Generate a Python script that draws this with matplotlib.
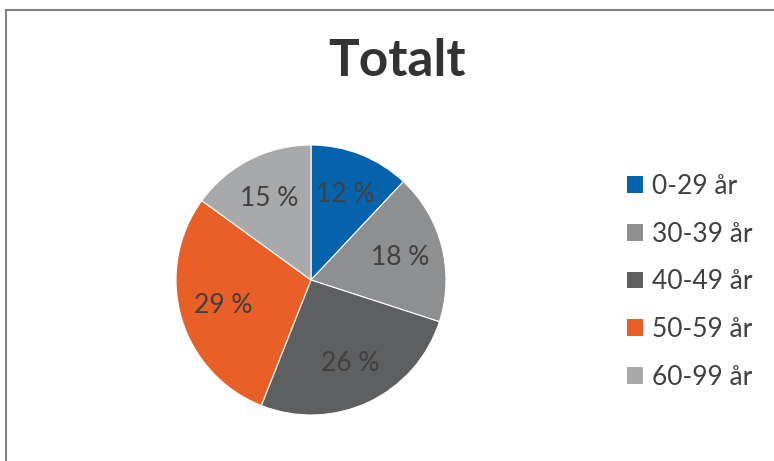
import matplotlib.pyplot as plt
from matplotlib.patches import Rectangle

# age groups and their share of the total (%)
groups = ["0-29 år", "30-39 år", "40-49 år", "50-59 år", "60-99 år"]
shares = [12, 18, 26, 29, 15]
colors = ["#0563AC", "#8E8F91", "#5E5F61", "#E85F27", "#A8A9AB"]

plt.rcParams['font.family'] = ['Lato', 'DejaVu Sans']
txt_color = "#404040"

W, H = 774, 461
fig = plt.figure(figsize=(W / 100, H / 100), dpi=100)

# outer frame, open to the right and bottom
fig.patches.append(Rectangle((6 / W, -0.1), 1.2, 1 - 10 / H + 0.1,
                             transform=fig.transFigure, fill=False,
                             edgecolor="#808080", linewidth=1.5))

# pie: centre (311, 280) px, radius 135 px
cx, cy, r = 311, 280, 135
ax = fig.add_axes([(cx - r) / W, (H - cy - r) / H, 2 * r / W, 2 * r / H])
wedges, texts, autotexts = ax.pie(
    shares, colors=colors, startangle=90, counterclock=False,
    autopct=lambda p: f"{p:.0f} %", pctdistance=0.68,
    wedgeprops=dict(edgecolor="white", linewidth=0.8),
    textprops=dict(color=txt_color, fontsize=19))
ax.set_xlim(-1, 1)
ax.set_ylim(-1, 1)

fig.text(397 / W, 1 - 61 / H, "Totalt", ha="center", va="center",
         fontsize=37, fontweight="bold", color="#333333")

leg = fig.legend(wedges, groups, loc="upper left",
                 bbox_to_anchor=(627 / W, 1 - 174 / H),
                 frameon=False, fontsize=19, labelcolor=txt_color,
                 handlelength=0.6, handleheight=0.6, handletextpad=0.35,
                 labelspacing=0.86, borderpad=0, borderaxespad=0)
for h in leg.legend_handles:
    h.set_edgecolor("none")

fig.savefig("out.png", dpi=100)
